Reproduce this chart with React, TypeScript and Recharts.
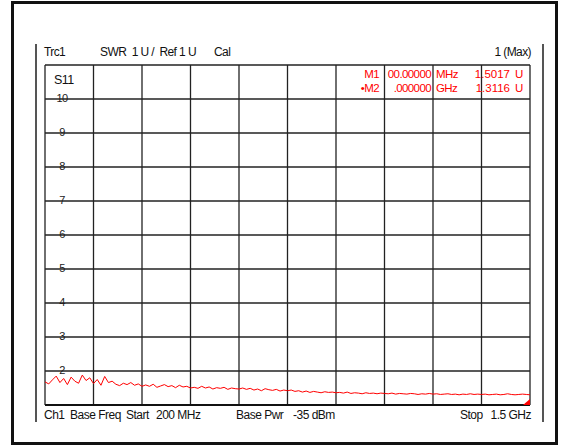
import {
  LineChart,
  Line,
  XAxis,
  YAxis,
  CartesianGrid,
  ReferenceLine,
  ReferenceDot,
} from "recharts";

// sweep 200 MHz .. 1500 MHz, one reading every 10 MHz
const START_MHZ = 200;
const STEP_MHZ = 10;

const swr = [
  1.68, 1.62, 1.74, 1.85, 1.66, 1.78, 1.6, 1.82, 1.7, 1.64, 1.88, 1.72, 1.8, 1.63,
  1.75, 1.58, 1.84, 1.66, 1.7, 1.61, 1.57, 1.64, 1.6, 1.66, 1.58, 1.62, 1.55,
  1.59, 1.55, 1.61, 1.52, 1.56, 1.6, 1.54, 1.57, 1.51, 1.58, 1.53, 1.55, 1.5,
  1.52, 1.49, 1.55, 1.5, 1.53, 1.47, 1.51, 1.49, 1.52, 1.46, 1.5, 1.48, 1.47,
  1.5, 1.46, 1.49, 1.44, 1.47, 1.42, 1.48, 1.45, 1.43, 1.46, 1.41, 1.44, 1.42,
  1.44, 1.4, 1.42, 1.38, 1.41, 1.37, 1.4, 1.38, 1.36, 1.39, 1.37, 1.38, 1.36,
  1.37, 1.35, 1.38, 1.34, 1.36, 1.35, 1.33, 1.36, 1.34, 1.35, 1.33, 1.35, 1.34,
  1.33, 1.35, 1.32, 1.34, 1.33, 1.32, 1.34, 1.33, 1.31, 1.33, 1.32, 1.34, 1.32,
  1.33, 1.31, 1.32, 1.33, 1.31, 1.32, 1.3, 1.32, 1.31, 1.33, 1.31, 1.32, 1.31,
  1.32, 1.3, 1.31, 1.32, 1.3, 1.31, 1.33, 1.31, 1.3, 1.31, 1.32, 1.31, 1.3,
];

const freqTicks = [200, 330, 460, 590, 720, 850, 980, 1110, 1240, 1370, 1500];
const swrTicks = [1, 2, 3, 4, 5, 6, 7, 8, 9, 10, 11];
const swrLabels = ["2", "3", "4", "5", "6", "7", "8", "9", "10"];

const markerNames = ["M1", "\u2022M2"];
const markerStim = ["00.00000", ".000000"];
const markerUnits = ["MHz", "GHz"];
const markerValues = ["1.5017", "1.3116"];

const data = swr.map((v, i) => ({ freq: START_MHZ + i * STEP_MHZ, swr: v }));

const font = "'Liberation Sans', Arial, sans-serif";

const txt = (left: number, top: number, s: string, color = "#111", extra = {}) => (
  <div
    style={{
      position: "absolute",
      left,
      top,
      fontFamily: font,
      fontSize: 12,
      lineHeight: "12px",
      letterSpacing: -0.6,
      color,
      whiteSpace: "pre",
      ...extra,
    }}
  >
    {s}
  </div>
);

const red = "#ff0000";
const mk = { fontSize: 11.5, letterSpacing: -0.6 };
const foot = { fontSize: 12, letterSpacing: -0.5 };

const YTick = (props: any) => {
  const { x, y, payload } = props;
  const label = String(payload.value);
  if (!swrLabels.includes(label)) return null;
  return (
    <text
      x={x + 9}
      y={y + 3}
      textAnchor="middle"
      fontFamily={font}
      fontSize={11}
      letterSpacing={-0.5}
      fill="#222"
    >
      {label}
    </text>
  );
};

const StopTriangle = (props: any) => {
  const { cx, cy } = props;
  return <path d={`M${cx} ${cy} L${cx - 7} ${cy} L${cx} ${cy - 6} Z`} fill={red} />;
};

const App = () => {
  return (
    <div
      style={{
        position: "fixed",
        left: 0,
        top: 0,
        width: 569,
        height: 447,
        background: "#fff",
        overflow: "hidden",
      }}
    >
      <div
        style={{
          position: "absolute",
          left: 11,
          top: 1,
          width: 541,
          height: 438,
          border: "3px solid #111",
        }}
      />
      <div style={{ position: "absolute", left: 35, top: 44, width: 2, height: 378, background: "#555" }} />
      <div style={{ position: "absolute", left: 542, top: 44, width: 2, height: 378, background: "#555" }} />

      <LineChart
        width={569}
        height={447}
        data={data}
        margin={{ top: 65, right: 39, bottom: 42, left: 45 }}
        style={{ position: "absolute", left: 0, top: 0 }}
      >
        <CartesianGrid stroke="#222" strokeWidth={1.3} />
        <XAxis
          dataKey="freq"
          type="number"
          domain={[200, 1500]}
          ticks={freqTicks}
          hide
        />
        <YAxis
          type="number"
          domain={[1, 11]}
          ticks={swrTicks}
          mirror
          axisLine={false}
          tickLine={false}
          tick={<YTick />}
        />
        <ReferenceLine y={1} stroke="#111" strokeWidth={2} />
        <Line
          type="linear"
          dataKey="swr"
          stroke={red}
          strokeWidth={1}
          dot={false}
          isAnimationActive={false}
        />
        <ReferenceDot x={1500} y={1} shape={<StopTriangle />} />
      </LineChart>

      {txt(44, 46, "Trc1")}
      {txt(100, 46, "SWR  1 U /  Ref 1 U")}
      {txt(214, 46, "Cal")}
      {txt(440, 46, "1 (Max)", "#111", { width: 91, textAlign: "right" })}

      {txt(54, 74, "S11", "#111", { fontSize: 12.5 })}

      {markerNames.map((m, i) => (
        <div key={m}>
          {txt(330, 68 + i * 14, m, red, { ...mk, width: 49, textAlign: "right" })}
          {txt(370, 68 + i * 14, markerStim[i], red, { ...mk, width: 61, textAlign: "right" })}
          {txt(436, 68 + i * 14, markerUnits[i], red, mk)}
          {txt(450, 68 + i * 14, markerValues[i], red, { ...mk, letterSpacing: 0, width: 60, textAlign: "right" })}
          {txt(515, 68 + i * 14, "U", red, mk)}
        </div>
      ))}

      {txt(44, 409, "Ch1", "#111", foot)}
      {txt(70, 409, "Base Freq", "#111", foot)}
      {txt(126, 409, "Start", "#111", foot)}
      {txt(156, 409, "200 MHz", "#111", foot)}
      {txt(236, 409, "Base Pwr", "#111", foot)}
      {txt(293, 409, "-35 dBm", "#111", foot)}
      {txt(460, 409, "Stop", "#111", foot)}
      {txt(430, 409, "1.5 GHz", "#111", { ...foot, width: 101, textAlign: "right" })}
    </div>
  );
};

export default App;
